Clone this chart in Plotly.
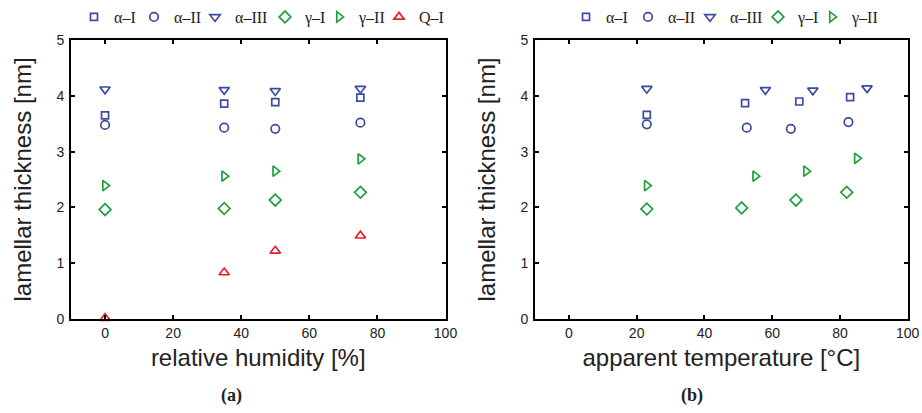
import plotly.graph_objects as go

W, H = 922, 413

# ---- data ----
series_names = ["α–I", "α–II", "α–III", "γ–I", "γ–II", "Q–I"]

# (a) relative humidity [%]
rh_x = [0, 35, 50, 75]
rh_alpha1 = [3.65, 3.86, 3.89, 3.97]
rh_alpha2 = [3.48, 3.43, 3.41, 3.52]
rh_alpha3 = [4.12, 4.11, 4.09, 4.13]
rh_gamma1 = [1.96, 1.98, 2.13, 2.27]
rh_gamma2 = [2.39, 2.56, 2.65, 2.87]
rh_q1 = [0.01, 0.83, 1.22, 1.49]

# (b) apparent temperature [°C]
t_alpha1_x = [23, 52, 68, 83]
t_alpha1 = [3.66, 3.87, 3.90, 3.98]
t_alpha2_x = [23, 52.5, 65.5, 82.5]
t_alpha2 = [3.49, 3.43, 3.41, 3.53]
t_alpha3_x = [23, 58, 72, 88]
t_alpha3 = [4.13, 4.11, 4.10, 4.14]
t_gamma1_x = [23, 51, 67, 82]
t_gamma1 = [1.97, 1.99, 2.13, 2.27]
t_gamma2_x = [23, 55, 70, 85]
t_gamma2 = [2.39, 2.56, 2.65, 2.88]

x_ticks = [0, 20, 40, 60, 80, 100]
y_ticks = [0, 1, 2, 3, 4, 5]

# ---- styles ----
BLUE = "#3B4BA0"
GREEN = "#1FA03C"
RED = "#E3202A"
styles = [
    ("square-open", BLUE, 7),
    ("circle-open", BLUE, 8.5),
    ("triangle-down-open", BLUE, 9),
    ("diamond-open", GREEN, 9),
    ("triangle-right-open", GREEN, 9),
    ("triangle-up-open", RED, 9),
]
LW = 1.7
# legend entry widths (px) to match the reference spacing
left_legend_w = [15, 16, 25, 9, 15, 32]
right_legend_w = [17, 17, 23, 9, 32]

fig = go.Figure()

left_data = [rh_alpha1, rh_alpha2, rh_alpha3, rh_gamma1, rh_gamma2, rh_q1]
for name, ys, (sym, col, sz), lw in zip(series_names, left_data, styles, left_legend_w):
    fig.add_trace(go.Scatter(
        x=rh_x, y=ys, mode="markers", name=name,
        marker=dict(symbol=sym, color=col, size=sz, line=dict(width=LW, color=col)),
        xaxis="x", yaxis="y", legend="legend", legendwidth=lw, cliponaxis=False,
    ))

right_x = [t_alpha1_x, t_alpha2_x, t_alpha3_x, t_gamma1_x, t_gamma2_x]
right_y = [t_alpha1, t_alpha2, t_alpha3, t_gamma1, t_gamma2]
for name, xs, ys, (sym, col, sz), lw in zip(series_names[:5], right_x, right_y, styles[:5], right_legend_w):
    fig.add_trace(go.Scatter(
        x=xs, y=ys, mode="markers", name=name,
        marker=dict(symbol=sym, color=col, size=sz, line=dict(width=LW, color=col)),
        xaxis="x2", yaxis="y2", legend="legend2", legendwidth=lw, cliponaxis=False,
    ))

ydom = [1 - 318.3 / H, 1 - 38.4 / H]
tickfont = dict(family="Liberation Sans, Arial", size=14, color="#222")
titlefont = dict(family="Liberation Sans, Arial", size=24, color="#222")

common_x = dict(range=[-10, 100], tickvals=x_ticks, ticks="inside", ticklen=4,
                tickwidth=1.5, tickcolor="black", showline=True, linecolor="black",
                linewidth=2, mirror="ticks", showgrid=False, zeroline=False,
                tickfont=tickfont, automargin=False, fixedrange=True)
common_y = dict(range=[0, 5], tickvals=y_ticks, ticks="inside", ticklen=4,
                tickwidth=1.5, tickcolor="black", showline=True, linecolor="black",
                linewidth=2, mirror="ticks", showgrid=False, zeroline=False,
                tickfont=tickfont, automargin=False, fixedrange=True, ticklabelstandoff=2)

legend_common = dict(orientation="h", yanchor="middle", y=1 - 15 / H, xanchor="left",
                     font=dict(family="Liberation Serif, Times New Roman", size=16, color="#222"),
                     bgcolor="rgba(0,0,0,0)", itemsizing="trace", tracegroupgap=0)

fig.update_layout(
    width=W, height=H,
    margin=dict(l=0, r=0, t=0, b=0),
    paper_bgcolor="white", plot_bgcolor="white",
    xaxis=dict(domain=[71 / W, 445.5 / W], anchor="y",
               title=dict(text="relative humidity [%]", font=titlefont, standoff=10), **common_x),
    yaxis=dict(domain=ydom, anchor="x",
               title=dict(text="lamellar thickness [nm]", font=titlefont, standoff=18), **common_y),
    xaxis2=dict(domain=[535 / W, 907.7 / W], anchor="y2",
                title=dict(text="apparent temperature [°C]", font=titlefont, standoff=10), **common_x),
    yaxis2=dict(domain=ydom, anchor="x2",
                title=dict(text="lamellar thickness [nm]", font=titlefont, standoff=18), **common_y),
    legend=dict(x=74 / W, **legend_common),
    legend2=dict(x=566 / W, **legend_common),
    annotations=[
        dict(text="<b>(a)</b>", x=231 / W, y=1 - 395 / H, xref="paper", yref="paper",
             xanchor="center", yanchor="middle", showarrow=False,
             font=dict(family="Liberation Serif, Times New Roman", size=18, color="#222")),
        dict(text="<b>(b)</b>", x=692 / W, y=1 - 395 / H, xref="paper", yref="paper",
             xanchor="center", yanchor="middle", showarrow=False,
             font=dict(family="Liberation Serif, Times New Roman", size=18, color="#222")),
    ],
)

fig.write_html("out.html")
